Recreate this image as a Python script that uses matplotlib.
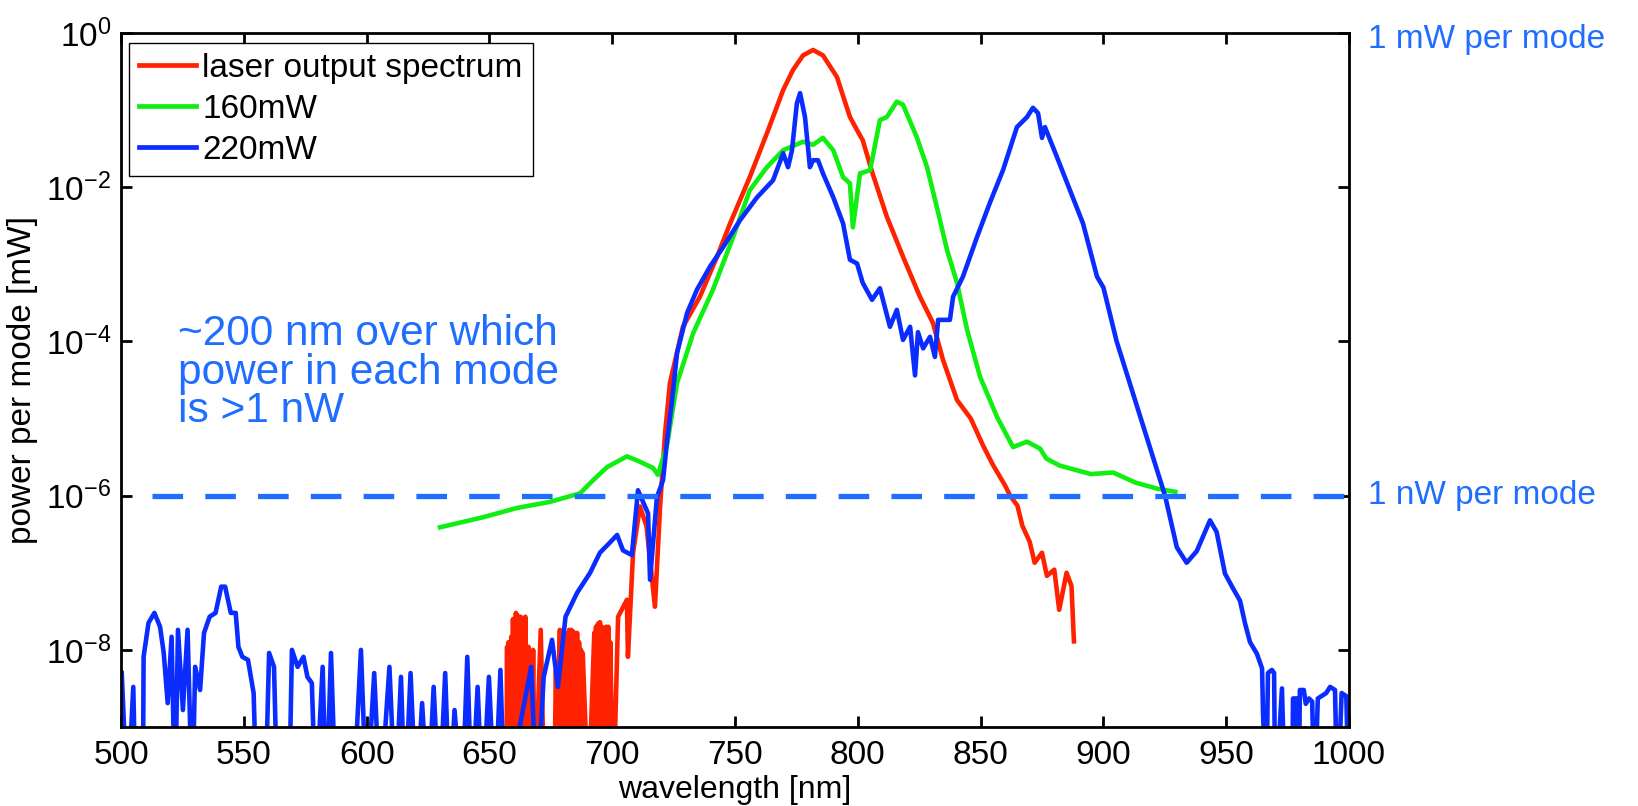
import numpy as np
import matplotlib
matplotlib.use("Agg")
import matplotlib.pyplot as plt
from matplotlib.ticker import FixedLocator, NullLocator, LogFormatterSciNotation

plt.rcParams['font.family'] = ['Liberation Sans', 'DejaVu Sans']
plt.rcParams['mathtext.fontset'] = 'custom'
plt.rcParams['mathtext.rm'] = 'Liberation Sans'
plt.rcParams['mathtext.it'] = 'Liberation Sans'
plt.rcParams['mathtext.bf'] = 'Liberation Sans'

# ── data: wavelength [nm] and log10(power per mode [mW]); -10 = below axis ──
red_nm = [656.9, 657.2, 657.5, 657.8, 658.3, 658.9, 659.2, 659.6, 660.2, 660.8,
          661.1, 661.4, 662.0, 662.7, 663.0, 663.3, 663.9, 664.6, 665.3, 665.9,
          667.0, 667.8, 668.5, 670.9, 672.4, 676.3, 677.1, 677.8, 678.7, 679.0,
          679.4, 679.8, 680.3, 680.7, 681.0, 681.3, 681.7, 682.1, 682.5, 682.9,
          683.3, 683.7, 684.1, 684.5, 684.9, 685.3, 685.7, 686.1, 686.5, 686.9,
          687.3, 687.6, 688.0, 690.3, 692.7, 693.0, 693.4, 693.8, 694.2, 694.6,
          695.0, 695.4, 695.8, 696.2, 696.6, 697.0, 697.5, 698.0, 698.4, 698.8,
          699.2, 700.4, 702.4, 706.0, 706.4, 708.5, 711.3, 714.0, 717.4, 719.5,
          721.5, 723.5, 728.8, 735.7, 742.7, 748.0, 756.0, 763.0, 769.6, 773.6,
          777.7, 781.8, 785.8, 791.5, 796.8, 799.7, 802.0, 806.0, 811.8, 818.4,
          825.3, 830.6, 834.7, 840.4, 846.0, 851.0, 855.0, 860.0, 862.0, 865.0,
          867.0, 870.0, 872.0, 875.0, 877.0, 880.0, 882.0, 885.0, 887.0, 888.0]
red_log = [-10, -7.96, -10, -7.9, -10, -7.83, -10, -7.6, -10, -7.52,
           -10, -7.55, -10, -7.57, -10, -7.6, -10, -7.57, -10, -7.96,
           -10, -8.0, -10, -7.74, -10, -10, -8.26, -10, -7.74, -10,
           -7.8, -10, -7.76, -10, -7.78, -10, -7.8, -10, -7.74, -10,
           -7.74, -10, -7.76, -10, -7.8, -10, -7.78, -10, -7.9, -10,
           -8.0, -10, -8.04, -10, -7.78, -10, -7.7, -10, -7.66, -10,
           -7.64, -10, -7.7, -10, -7.75, -10, -7.7, -10, -7.7, -10,
           -7.9, -10, -7.57, -7.35, -8.09, -6.74, -6.14, -6.4, -7.44, -6.14,
           -5.2, -4.54, -3.81, -3.42, -2.9, -2.47, -1.87, -1.3, -0.74, -0.48,
           -0.29, -0.22, -0.29, -0.57, -1.09, -1.26, -1.39, -1.82, -2.38, -2.9,
           -3.42, -3.76, -4.24, -4.76, -5.0, -5.35, -5.6, -5.87, -6.0, -6.13,
           -6.39, -6.6, -6.87, -6.74, -7.04, -6.96, -7.48, -7.0, -7.17, -7.89]

green_nm = [629.9, 647.4, 661.2, 674.7, 686.9, 692.2, 697.9, 706.0, 711.3, 716.6,
            718.6, 722.3, 726.4, 733.0, 741.0, 749.2, 756.0, 763.0, 769.6, 777.7,
            781.8, 785.8, 790.0, 794.0, 796.8, 798.0, 800.9, 805.0, 809.0, 811.8,
            815.9, 818.4, 824.0, 828.2, 832.2, 836.3, 840.4, 844.5, 849.8, 856.7,
            863.2, 868.9, 874.2, 876.8, 882.2, 894.9, 904.0, 913.0, 922.0, 929.3]
green_log = [-6.41, -6.28, -6.16, -6.08, -5.97, -5.8, -5.63, -5.49, -5.56, -5.64,
             -5.73, -5.35, -4.54, -3.89, -3.33, -2.65, -2.04, -1.74, -1.52, -1.41,
             -1.45, -1.36, -1.52, -1.87, -1.95, -2.52, -1.82, -1.78, -1.13, -1.09,
             -0.89, -0.93, -1.35, -1.74, -2.26, -2.81, -3.24, -3.85, -4.46, -4.98,
             -5.37, -5.3, -5.39, -5.52, -5.61, -5.72, -5.7, -5.83, -5.91, -5.95]

blue_nm = [500.3, 502.6, 505.0, 506.0, 508.9, 509.2, 511.2, 513.6, 515.9, 517.4,
           519.0, 520.6, 522.0, 523.2, 525.2, 527.1, 529.0, 530.2, 532.2, 533.8,
           536.1, 538.5, 540.8, 542.4, 544.7, 546.7, 547.8, 549.4, 551.7, 554.0,
           555.3, 558.7, 560.3, 562.3, 563.7, 568.4, 569.6, 571.9, 574.3, 575.9,
           577.7, 579.3, 582.1, 583.6, 585.5, 587.5, 594.5, 597.7, 600.0, 603.1,
           605.5, 609.3, 611.7, 614.0, 615.6, 617.9, 620.2, 622.6, 625.0, 627.3,
           629.6, 632.0, 633.8, 635.8, 638.9, 641.0, 642.8, 645.2, 647.2, 649.8,
           652.2, 654.5, 656.1, 663.1, 667.0, 669.3, 672.1, 675.5, 677.9, 681.0,
           685.7, 691.0, 695.0, 699.0, 702.0, 704.4, 708.0, 710.5, 714.6, 715.4,
           718.2, 720.7, 722.3, 724.4, 726.4, 730.5, 734.5, 739.8, 745.1, 752.0,
           759.0, 765.5, 769.6, 771.6, 773.2, 775.2, 776.5, 778.5, 780.5, 781.8,
           783.8, 785.8, 790.0, 794.0, 796.8, 799.7, 802.0, 805.8, 809.0, 813.1,
           815.9, 818.4, 821.3, 823.3, 824.5, 826.6, 829.4, 831.4, 832.7, 837.5,
           838.8, 842.8, 848.5, 853.8, 859.1, 864.8, 868.9, 871.3, 873.4, 875.0,
           876.2, 881.1, 886.4, 891.7, 897.4, 900.0, 905.4, 912.2, 919.0, 925.1,
           929.9, 933.9, 938.0, 943.4, 946.1, 949.5, 952.9, 955.6, 957.7, 959.7,
           962.5, 964.6, 965.0, 966.3, 967.0, 968.6, 969.5, 970.0, 972.7, 974.0,
           976.8, 977.2, 978.8, 979.5, 980.0, 981.6, 982.4, 983.7, 985.0, 986.0,
           987.3, 990.7, 992.3, 994.3, 995.3, 997.0, 998.9, 1000.0]
blue_log = [-8.3, -10, -8.48, -10, -10, -8.09, -7.65, -7.52, -7.7, -8.04,
            -8.69, -7.83, -10, -7.74, -8.78, -7.74, -10, -8.22, -8.52, -7.78,
            -7.57, -7.52, -7.18, -7.18, -7.52, -7.52, -7.96, -8.09, -8.13, -8.56,
            -10, -10, -8.04, -8.22, -10, -10, -8.0, -8.22, -8.09, -8.35,
            -8.43, -10, -8.22, -10, -8.04, -10, -10, -8.0, -10, -8.3,
            -10, -8.22, -10, -8.35, -10, -8.3, -10, -8.69, -10, -8.48,
            -10, -8.3, -10, -8.78, -10, -8.09, -10, -8.48, -10, -8.35,
            -10, -8.26, -10, -8.87, -8.22, -10, -8.35, -7.87, -8.48, -7.57,
            -7.26, -7.0, -6.74, -6.61, -6.51, -6.71, -6.77, -5.93, -6.23, -7.09,
            -6.02, -5.8, -5.3, -4.76, -4.15, -3.63, -3.33, -3.03, -2.78, -2.43,
            -2.13, -1.91, -1.56, -1.74, -1.52, -0.91, -0.78, -1.09, -1.74, -1.65,
            -1.65, -1.82, -2.13, -2.47, -2.94, -2.99, -3.24, -3.46, -3.31, -3.81,
            -3.59, -3.98, -3.81, -4.44, -3.88, -4.09, -3.94, -4.2, -3.72, -3.72,
            -3.42, -3.16, -2.65, -2.2, -1.78, -1.22, -1.09, -0.97, -1.04, -1.36,
            -1.22, -1.61, -2.04, -2.47, -3.16, -3.3, -4.0, -4.69, -5.38, -6.0,
            -6.67, -6.87, -6.72, -6.32, -6.47, -7.01, -7.21, -7.36, -7.66, -7.9,
            -8.05, -8.24, -8.82, -10, -8.3, -8.26, -8.3, -10, -8.5, -10,
            -10, -8.63, -8.63, -10, -8.52, -8.52, -8.7, -8.63, -8.67, -10,
            -8.63, -8.56, -8.48, -8.52, -10, -8.56, -8.6, -10]

series_labels = ['laser output spectrum', '160mW', '220mW']
threshold_mw = 1e-6
ytick_vals = [1e-8, 1e-6, 1e-4, 1e-2, 1e0]
xtick_vals = list(range(500, 1001, 50))

RED, GREEN, BLUE, ANNOT = '#ff2200', '#11ee11', '#0a2cff', '#1f6eff'

# ── figure ──────────────────────────────────────────────────────
fig = plt.figure(figsize=(16.38, 8.06), dpi=100)
ax = fig.add_axes([121/1638, 79/806, 1228/1638, 694/806])

lw = 3.3
ax.plot(red_nm, 10.0**np.array(red_log), color=RED, lw=lw, label=series_labels[0])
ax.plot(green_nm, 10.0**np.array(green_log), color=GREEN, lw=lw, label=series_labels[1])
ax.plot(blue_nm, 10.0**np.array(blue_log), color=BLUE, lw=lw, label=series_labels[2])
ax.axhline(threshold_mw, xmin=0.025, color=ANNOT, lw=3.8, ls=(0, (5.8, 4.2)))

ax.set_yscale('log')
ax.set_xlim(500, 1000)
ax.set_ylim(1e-9, 1e0)
ax.xaxis.set_major_locator(FixedLocator(xtick_vals))
ax.yaxis.set_major_locator(FixedLocator(ytick_vals))
ax.yaxis.set_minor_locator(NullLocator())
ax.yaxis.set_major_formatter(LogFormatterSciNotation())
ax.tick_params(direction='in', length=8, width=2, labelsize=24,
               top=True, right=True)
ax.tick_params(axis='y', pad=7)
ax.tick_params(axis='x', pad=9)
for sp in ax.spines.values():
    sp.set_linewidth(2)

ax.set_xlabel('wavelength [nm]', fontsize=23, labelpad=3)
ax.set_ylabel('power per mode [mW]', fontsize=24, labelpad=6)

leg = ax.legend(loc='upper left', bbox_to_anchor=(0.0065, 0.9856),
                borderaxespad=0, fontsize=24, frameon=True, fancybox=False,
                edgecolor='black', framealpha=1, handlelength=1.7,
                handletextpad=0.2, labelspacing=0.3, borderpad=0.3)
leg.get_frame().set_linewidth(1.0)
for h in leg.get_lines():
    h.set_linewidth(3.4)

ax.text(0.0464, 0.595, '~200 nm over which\npower in each mode\nis >1 nW',
        transform=ax.transAxes, color=ANNOT, fontsize=30.5, va='top',
        ha='left', linespacing=0.95)
ax.text(1.0155, 0.99, '1 mW per mode', transform=ax.transAxes,
        color=ANNOT, fontsize=24, va='center', ha='left')
ax.text(1.0155, threshold_mw, '1 nW per mode',
        transform=ax.get_yaxis_transform(), color=ANNOT, fontsize=24,
        va='center', ha='left')

fig.savefig('out.png', dpi=100, facecolor='white')
